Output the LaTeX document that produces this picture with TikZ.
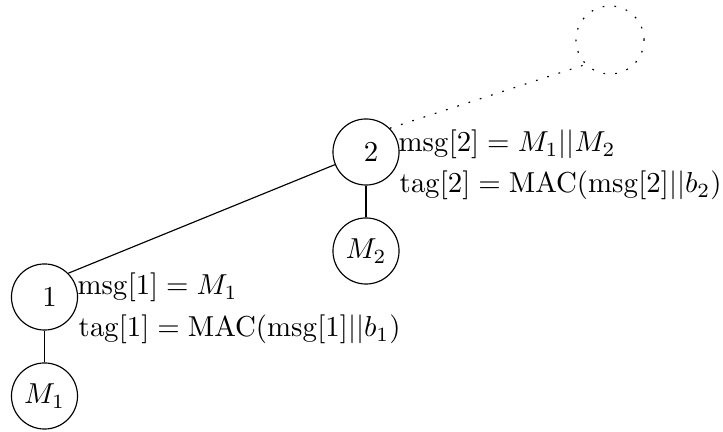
\documentclass[tikz,border=0pt]{standalone}
\usepackage{amsmath}
\tikzset{
  tnode/.style={draw, circle, minimum size=22.9pt, inner sep=0pt},
  dotline/.style={dash pattern=on 0.6pt off 3.5pt},
  ghost/.style={draw, circle, minimum size=23.6pt, inner sep=0pt, dotline},
  lbl/.style={anchor=base west, inner sep=0pt},
}
\begin{document}
\begin{tikzpicture}[x=0.3466pt, y=-0.3466pt]
\useasboundingbox (0,0) rectangle (723,432);
\node[tnode] (n1) at (44.5,297) {\hspace{3.5pt}1};
\node[tnode] (m1) at (44.5,396) {$M_1$};
\node[tnode] (n2) at (366,152) {\hspace{3.5pt}2};
\node[tnode] (m2) at (366,251) {$M_2$};
\node[ghost] (n3) at (610,40) {};
\draw (n1.north east) -- (n2);
\draw (n1) -- (m1);
\draw (n2) -- (m2);
\draw[dotline] (n2.north east) -- (n3.south west);
\node[lbl] (l1a) at (77,295) {$\mathrm{msg}[1] = M_1$};
\node[lbl] (l1b) at (78,337) {$\mathrm{tag}[1] = \mathrm{MAC}(\mathrm{msg}[1]||b_1)$};
\node[lbl] (l2a) at (398,152) {$\mathrm{msg}[2] = M_1||M_2$};
\node[lbl] (l2b) at (399,193) {$\mathrm{tag}[2] = \mathrm{MAC}(\mathrm{msg}[2]||b_2)$};
\end{tikzpicture}
\end{document}
